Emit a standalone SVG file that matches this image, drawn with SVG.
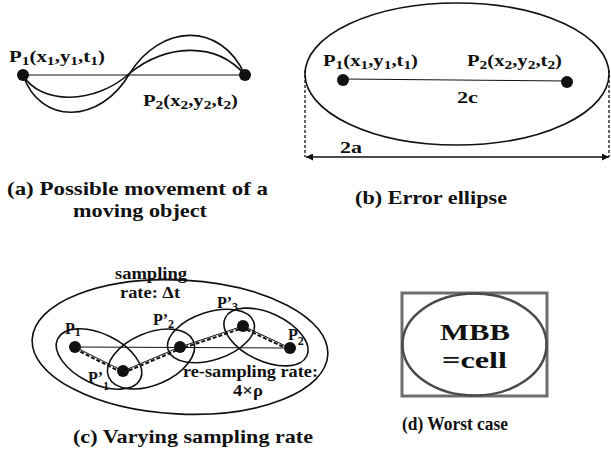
<svg xmlns="http://www.w3.org/2000/svg" width="611" height="449" viewBox="0 0 611 449" font-family="'Liberation Serif', 'DejaVu Serif', serif">
<style>
text{fill:#111}
.lbl{font-size:16px;font-weight:bold}
.cap{font-size:19px;font-weight:bold}
.sub{font-size:12px}
.ln{fill:none;stroke:#111;stroke-width:1.6}
.thin{fill:none;stroke:#111;stroke-width:1}
.dash{fill:none;stroke:#111;stroke-width:2;stroke-dasharray:4 2}
.dot{fill:#111}
.dim{fill:none;stroke:#111;stroke-width:1.3;stroke-dasharray:3 2}
</style>
<defs>
<marker id="ah" viewBox="0 0 10 10" refX="10" refY="5" markerWidth="9" markerHeight="7" orient="auto-start-reverse" markerUnits="userSpaceOnUse">
<path d="M0,0 L10,5 L0,10 z" fill="#111"/>
</marker>
</defs>
<rect width="611" height="449" fill="#fff"/>

<g id="panel-a">
<g id="a-connectors">
<line class="thin" x1="23" y1="75" x2="245" y2="75"/>
<path class="ln" d="M23,75 C40,125 100,125 130,73 C160,25 220,20 245,75"/>
<path class="ln" d="M23,75 C40,105 95,105 130,73 C165,45 215,40 245,75"/>
</g>
<g id="a-p1"><circle class="dot" cx="23" cy="75" r="6"/>
<text class="lbl" x="9" y="62" textLength="96" lengthAdjust="spacingAndGlyphs">P<tspan class="sub" dy="3">1</tspan><tspan dy="-3">(x</tspan><tspan class="sub" dy="3">1</tspan><tspan dy="-3">,y</tspan><tspan class="sub" dy="3">1</tspan><tspan dy="-3">,t</tspan><tspan class="sub" dy="3">1</tspan><tspan dy="-3">)</tspan></text></g>
<g id="a-p2"><circle class="dot" cx="245" cy="75" r="6"/>
<text class="lbl" x="143" y="106" textLength="95" lengthAdjust="spacingAndGlyphs">P<tspan class="sub" dy="3">2</tspan><tspan dy="-3">(x</tspan><tspan class="sub" dy="3">2</tspan><tspan dy="-3">,y</tspan><tspan class="sub" dy="3">2</tspan><tspan dy="-3">,t</tspan><tspan class="sub" dy="3">2</tspan><tspan dy="-3">)</tspan></text></g>
<text class="cap" x="7" y="195" textLength="261" lengthAdjust="spacingAndGlyphs">(a) Possible movement of a</text>
<text class="cap" x="73" y="217" textLength="134" lengthAdjust="spacingAndGlyphs">moving object</text>
</g>

<g id="panel-b">
<g id="b-ellipse"><ellipse class="ln" cx="457" cy="74" rx="152" ry="71"/></g>
<g id="b-connectors">
<line class="thin" x1="343" y1="79" x2="567" y2="81"/>
<line class="dim" x1="305" y1="70" x2="305" y2="157"/>
<line class="dim" x1="609" y1="70" x2="609" y2="157"/>
<line fill="none" stroke="#111" stroke-width="1.6" x1="306" y1="157" x2="609" y2="157" marker-start="url(#ah)" marker-end="url(#ah)"/>
</g>
<g id="b-p1"><circle class="dot" cx="343" cy="80" r="6"/>
<text class="lbl" x="323" y="66" textLength="95" lengthAdjust="spacingAndGlyphs">P<tspan class="sub" dy="3">1</tspan><tspan dy="-3">(x</tspan><tspan class="sub" dy="3">1</tspan><tspan dy="-3">,y</tspan><tspan class="sub" dy="3">1</tspan><tspan dy="-3">,t</tspan><tspan class="sub" dy="3">1</tspan><tspan dy="-3">)</tspan></text></g>
<g id="b-p2"><circle class="dot" cx="567" cy="82" r="6"/>
<text class="lbl" x="467" y="66" textLength="95" lengthAdjust="spacingAndGlyphs">P<tspan class="sub" dy="3">2</tspan><tspan dy="-3">(x</tspan><tspan class="sub" dy="3">2</tspan><tspan dy="-3">,y</tspan><tspan class="sub" dy="3">2</tspan><tspan dy="-3">,t</tspan><tspan class="sub" dy="3">2</tspan><tspan dy="-3">)</tspan></text></g>
<text class="lbl" x="457" y="103" textLength="21" lengthAdjust="spacingAndGlyphs">2c</text>
<text class="lbl" x="340" y="153" textLength="22" lengthAdjust="spacingAndGlyphs">2a</text>
<text class="cap" x="355" y="204" textLength="152" lengthAdjust="spacingAndGlyphs">(b) Error ellipse</text>
</g>

<g id="panel-c">
<g id="c-outer"><ellipse class="ln" cx="180" cy="347" rx="148" ry="67" transform="rotate(3 180 347)"/></g>
<g id="c-ellipses">
<ellipse class="ln" cx="99" cy="359" rx="46" ry="25" transform="rotate(26 99 359)"/>
<ellipse class="ln" cx="151" cy="359" rx="46" ry="26" transform="rotate(-23 151 359)"/>
<ellipse class="ln" cx="211" cy="336" rx="45" ry="24" transform="rotate(-18 211 336)"/>
<ellipse class="ln" cx="266" cy="337" rx="45" ry="24" transform="rotate(25 266 337)"/>
</g>
<g id="c-connectors">
<line class="thin" x1="75" y1="347" x2="290" y2="348"/>
<polyline class="thin" points="75,347 123,371 180,347 243,326 290,348"/>
<polyline class="dash" points="75,349 123,373 180,349 243,328 290,350"/>
</g>
<g id="c-p1"><circle class="dot" cx="75" cy="347" r="6"/><text class="lbl" x="65" y="334">P<tspan class="sub" dy="2">1</tspan></text></g>
<g id="c-pp1"><circle class="dot" cx="123" cy="371" r="6"/><text class="lbl" x="88" y="383">P’<tspan class="sub" dy="7">1</tspan></text></g>
<g id="c-pp2"><circle class="dot" cx="180" cy="347" r="6"/><text class="lbl" x="153" y="325">P’<tspan class="sub" dy="3">2</tspan></text></g>
<g id="c-pp3"><circle class="dot" cx="243" cy="326" r="6"/><text class="lbl" x="217" y="308">P’<tspan class="sub" dy="3">3</tspan></text></g>
<g id="c-p2"><circle class="dot" cx="290" cy="348" r="6"/><text class="lbl" x="288" y="340">P<tspan class="sub" dy="5">2</tspan></text></g>
<text class="lbl" x="115" y="279" textLength="72" lengthAdjust="spacingAndGlyphs">sampling</text>
<text class="lbl" x="120" y="298" textLength="60" lengthAdjust="spacingAndGlyphs">rate: Δt</text>
<text class="lbl" x="183" y="377" textLength="135" lengthAdjust="spacingAndGlyphs">re-sampling rate:</text>
<text class="lbl" x="233" y="396" textLength="30" lengthAdjust="spacingAndGlyphs">4×ρ</text>
<text class="cap" x="73" y="443" textLength="240" lengthAdjust="spacingAndGlyphs">(c) Varying sampling rate</text>
</g>

<g id="panel-d">
<g id="d-cell">
<rect x="402" y="293" width="145" height="103" fill="none" stroke="#6e6e6e" stroke-width="3"/>
<ellipse cx="474.5" cy="344.5" rx="72" ry="51" fill="none" stroke="#4a4a4a" stroke-width="2.5"/>
<text x="440" y="340" font-size="23" font-weight="bold" textLength="70" lengthAdjust="spacingAndGlyphs">MBB</text>
<text x="442" y="368" font-size="23" font-weight="bold" textLength="65" lengthAdjust="spacingAndGlyphs">=cell</text>
</g>
<text class="cap" x="402" y="430" textLength="106" lengthAdjust="spacingAndGlyphs">(d) Worst case</text>
</g>
</svg>
